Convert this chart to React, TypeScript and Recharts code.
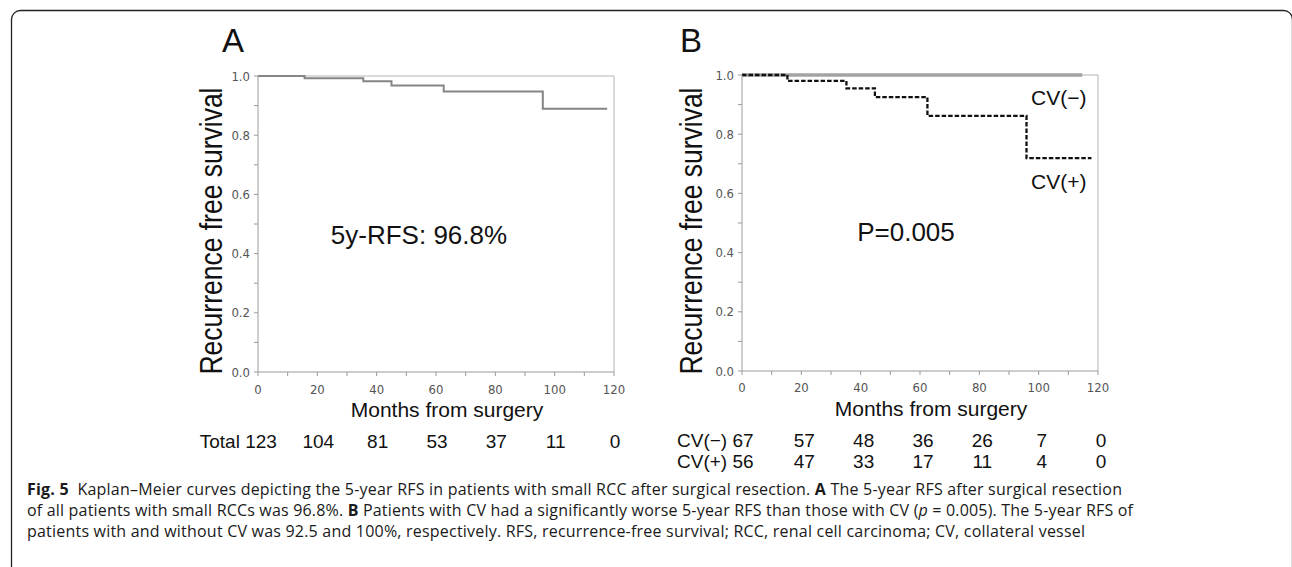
import React from 'react';
import { LineChart, Line, XAxis, YAxis, ReferenceLine } from 'recharts';

// ---------- data ----------
const xTicks = [0, 10, 20, 30, 40, 50, 60, 70, 80, 90, 100, 110, 120];
const yTicks = [0, 0.1, 0.2, 0.3, 0.4, 0.5, 0.6, 0.7, 0.8, 0.9, 1.0];
const riskMonths = [0, 20, 40, 60, 80, 100, 120];

// Panel A: all patients
const monthsAll = [0, 15.7, 35.5, 45.0, 62.6, 96.0, 117.7];
const rfsAll = [1, 0.992, 0.982, 0.968, 0.948, 0.889, 0.889];

// Panel B: CV(-) and CV(+)
const monthsCvNeg = [0, 114.7];
const rfsCvNeg = [1, 1];
const monthsCvPos = [0, 15.3, 35.2, 44.8, 62.5, 95.9, 117.8];
const rfsCvPos = [1, 0.98, 0.955, 0.925, 0.862, 0.719, 0.719];

// numbers at risk
const riskTotal = [123, 104, 81, 53, 37, 11, 0];
const riskCvNeg = [67, 57, 48, 36, 26, 7, 0];
const riskCvPos = [56, 47, 33, 17, 11, 4, 0];

const dataAll = monthsAll.map((t, i) => ({ t, s: rfsAll[i] }));
const dataCvNeg = monthsCvNeg.map((t, i) => ({ t, s: rfsCvNeg[i] }));
const dataCvPos = monthsCvPos.map((t, i) => ({ t, s: rfsCvPos[i] }));

// ---------- styles ----------
const ARIAL = "'Liberation Sans', Arial, sans-serif";
const TICKFONT = "'DejaVu Sans Condensed', 'DejaVu Sans', sans-serif";
const CAPFONT = "'Open Sans', 'Noto Sans', sans-serif";
const AXIS = '#9a9a9a';
const FRAME = '#b4b4b4';
const TICKTEXT = '#555';
const RISKFS = 19;

function XTick(props: any) {
  const { x, y, payload, rows, numDx, labelDy } = props;
  const v = payload.value;
  const idx = riskMonths.indexOf(v);
  return (
    <g>
      <line x1={x} x2={x} y1={y} y2={y + 4} stroke={AXIS} />
      {idx >= 0 && (
        <text x={x} y={y + labelDy} textAnchor="middle" fontFamily={TICKFONT} fontSize={13} fill={TICKTEXT}>
          {v}
        </text>
      )}
      {idx >= 0 &&
        rows.map((row: any, r: number) => {
          const val = row.values[idx];
          if (idx === 0) {
            const half = (String(val).length * 0.556 * RISKFS) / 2;
            return (
              <text key={r} x={x + half + row.firstDx} y={y + row.dy} textAnchor="end" fontFamily={ARIAL} fontSize={RISKFS} fill="#111">
                {row.label + ' ' + val}
              </text>
            );
          }
          return (
            <text key={r} x={x + numDx} y={y + row.dy} textAnchor="middle" fontFamily={ARIAL} fontSize={RISKFS} fill="#111">
              {val}
            </text>
          );
        })}
    </g>
  );
}

function YTick(props: any) {
  const { x, y, payload } = props;
  const v = payload.value;
  const major = Math.round(v * 10) % 2 === 0;
  return (
    <g>
      <line x1={x} x2={x - 4} y1={y} y2={y} stroke={AXIS} />
      {major && (
        <text x={x - 8} y={y} dy="0.36em" textAnchor="end" fontFamily={TICKFONT} fontSize={13} fill={TICKTEXT}>
          {v.toFixed(1)}
        </text>
      )}
    </g>
  );
}

function KMPanel(props: any) {
  const { left, top, margin, rows, numDx, labelDy, ylabOffset, ylabCy, children } = props;
  return (
    <div style={{ position: 'absolute', left, top }}>
      <LineChart width={470} height={460} margin={margin}>
        <XAxis
          dataKey="t"
          type="number"
          domain={[0, 120]}
          ticks={xTicks}
          interval={0}
          tickSize={0}
          tickMargin={0}
          height={100}
          axisLine={{ stroke: AXIS }}
          tickLine={false}
          tick={(p: any) => <XTick {...p} rows={rows} numDx={numDx} labelDy={labelDy} />}
          label={{
            content: (lp: any) => {
              const vb = lp.viewBox || {};
              return (
                <text x={vb.x + vb.width / 2 + 11} y={vb.y + 45} textAnchor="middle" fontFamily={ARIAL} fontSize={21} fill="#111">
                  Months from surgery
                </text>
              );
            },
          }}
        />
        <YAxis
          type="number"
          domain={[0, 1]}
          ticks={yTicks}
          interval={0}
          width={60}
          tickSize={0}
          tickMargin={0}
          axisLine={{ stroke: AXIS }}
          tickLine={false}
          tick={(p: any) => <YTick {...p} />}
          label={{
            content: (lp: any) => {
              const vb = lp.viewBox || {};
              const cx = vb.x + vb.width - ylabOffset;
              const cy = vb.y + ylabCy;
              return (
                <text
                  x={cx}
                  y={cy}
                  transform={`rotate(-90 ${cx} ${cy})`}
                  textAnchor="middle"
                  fontFamily={ARIAL}
                  fontSize={31}
                  textLength={287}
                  lengthAdjust="spacingAndGlyphs"
                  fill="#111"
                >
                  Recurrence free survival
                </text>
              );
            },
          }}
        />
        <ReferenceLine y={1} stroke={FRAME} />
        <ReferenceLine x={120} stroke={FRAME} />
        {children}
      </LineChart>
    </div>
  );
}

export default function App() {
  return (
    <div style={{ position: 'absolute', left: 0, top: 0, width: 1292, height: 567, background: '#fff', overflow: 'hidden' }}>
      <KMPanel
        left={180}
        top={20}
        margin={{ top: 56, right: 36, bottom: 8, left: 18 }}
        rows={[{ label: 'Total', values: riskTotal, dy: 76, firstDx: 3 }]}
        numDx={1}
        labelDy={22}
        ylabOffset={36}
        ylabCy={155}
      >
        <Line data={dataAll} dataKey="s" type="stepAfter" stroke="#858585" strokeWidth={2} dot={false} activeDot={false} isAnimationActive={false} />
      </KMPanel>
      <KMPanel
        left={660}
        top={20}
        margin={{ top: 55, right: 32, bottom: 9, left: 22 }}
        rows={[
          { label: 'CV(−)', values: riskCvNeg, dy: 76, firstDx: 1 },
          { label: 'CV(+)', values: riskCvPos, dy: 97, firstDx: 1 },
        ]}
        numDx={3}
        labelDy={21}
        ylabOffset={40}
        ylabCy={156}
      >
        <Line data={dataCvNeg} dataKey="s" type="stepAfter" stroke="#a3a3a3" strokeWidth={3.5} dot={false} activeDot={false} isAnimationActive={false} />
        <Line data={dataCvPos} dataKey="s" type="stepAfter" stroke="#111" strokeWidth={2.3} strokeDasharray="4.5 2" dot={false} activeDot={false} isAnimationActive={false} />
      </KMPanel>

      <svg width={1292} height={567} style={{ position: 'absolute', left: 0, top: 0, pointerEvents: 'none' }}>
        <rect x={11.5} y={10.5} width={1281} height={580} rx={9} fill="none" stroke="#222" strokeWidth={1.3} />
        <text x={222} y={52} fontFamily={ARIAL} fontSize={33} fill="#111">A</text>
        <text x={680} y={52} fontFamily={ARIAL} fontSize={33} fill="#111">B</text>
        <text x={419} y={244} textAnchor="middle" fontFamily={ARIAL} fontSize={26} fill="#111">5y-RFS: 96.8%</text>
        <text x={906} y={241} textAnchor="middle" fontFamily={ARIAL} fontSize={26} fill="#111">P=0.005</text>
        <text x={1031} y={105} fontFamily={ARIAL} fontSize={21} fill="#111">CV(−)</text>
        <text x={1031} y={189} fontFamily={ARIAL} fontSize={21} fill="#111">CV(+)</text>

        <text x={27} y={495} fontFamily={CAPFONT} fontSize={16} fill="#1a1a1a" textLength={1095} lengthAdjust="spacing">
          <tspan fontWeight="bold">Fig. 5</tspan>
          <tspan>{'\u00a0\u00a0Kaplan–Meier curves depicting the 5-year RFS in patients with small RCC after surgical resection. '}</tspan>
          <tspan fontWeight="bold">A</tspan>
          <tspan>{' The 5-year RFS after surgical resection'}</tspan>
        </text>
        <text x={27} y={516} fontFamily={CAPFONT} fontSize={16} fill="#1a1a1a" textLength={1106} lengthAdjust="spacing">
          <tspan>{'of all patients with small RCCs was 96.8%. '}</tspan>
          <tspan fontWeight="bold">B</tspan>
          <tspan>{' Patients with CV had a significantly worse 5-year RFS than those with CV ('}</tspan>
          <tspan fontStyle="italic">p</tspan>
          <tspan>{'\u00a0=\u00a00.005). The 5-year RFS of'}</tspan>
        </text>
        <text x={27} y={537} fontFamily={CAPFONT} fontSize={16} fill="#1a1a1a" textLength={1058} lengthAdjust="spacing">
          patients with and without CV was 92.5 and 100%, respectively. RFS, recurrence-free survival; RCC, renal cell carcinoma; CV, collateral vessel
        </text>
      </svg>
    </div>
  );
}
